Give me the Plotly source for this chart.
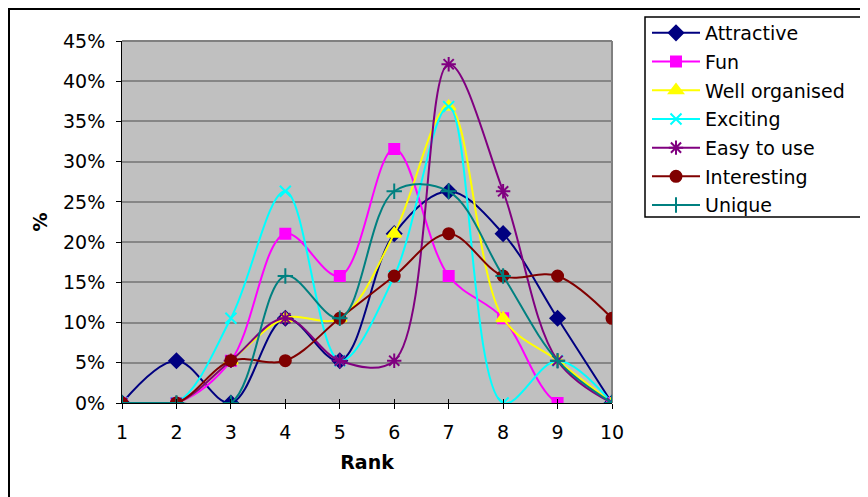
import plotly.graph_objects as go

ranks = [1, 2, 3, 4, 5, 6, 7, 8, 9, 10]
attractive = [0, 5.26, 0, 10.53, 5.26, 21.05, 26.32, 21.05, 10.53, 0]
fun = [0, 0, 5.26, 21.05, 15.79, 31.58, 15.79, 10.53, 0, 0]
well_organised = [0, 0, 5.26, 10.53, 10.53, 21.05, 36.84, 10.53, 5.26, 0]
exciting = [0, 0, 10.53, 26.32, 5.26, 15.79, 36.84, 0, 5.26, 0]
easy_to_use = [0, 0, 5.26, 10.53, 5.26, 5.26, 42.11, 26.32, 5.26, 0]
interesting = [0, 0, 5.26, 5.26, 10.53, 15.79, 21.05, 15.79, 15.79, 10.53]
unique = [0, 0, 0, 15.79, 10.53, 26.32, 26.32, 15.79, 5.26, 0]

y_ticks = [0, 5, 10, 15, 20, 25, 30, 35, 40, 45]
y_tick_labels = [f"{v}%" for v in y_ticks]

series = [
    ("Attractive", attractive, "#000080", "diamond", 11),
    ("Fun", fun, "#FF00FF", "square", 10),
    ("Well organised", well_organised, "#FFFF00", "triangle-up", 12),
    ("Exciting", exciting, "#00FFFF", "x-thin-open", 11),
    ("Easy to use", easy_to_use, "#800080", "asterisk-open", 12),
    ("Interesting", interesting, "#800000", "circle", 11),
    ("Unique", unique, "#008080", "cross-thin-open", 11),
]

FONT = "DejaVu Sans"
FS = 19

fig = go.Figure()
for i, (name, vals, color, sym, size) in enumerate(series):
    fig.add_trace(go.Scatter(
        x=ranks, y=vals, name=name, mode="lines+markers",
        line=dict(color=color, width=2, shape="spline", smoothing=1),
        marker=dict(symbol=sym, color=color, size=size,
                    line=dict(color=color, width=2)),
        legendgroup=f"g{i}",
    ))

# page body offsets the figure by ~8px
OFF = 8
W, H = 868, 497
# desired screen positions of plot area
SL, ST, SR, SB = 122, 41, 612, 403
L, T = SL - OFF, ST - OFF
R, B = W - (SR - OFF), H - (SB - OFF)
pw, ph = W - L - R, H - T - B

def px_x(x):
    return (x - OFF - L) / pw

def px_y(y):
    return (H - B - (y - OFF)) / ph

fig.update_layout(
    width=W, height=H,
    margin=dict(l=L, r=R, t=T, b=B, autoexpand=False),
    paper_bgcolor="white",
    plot_bgcolor="#C0C0C0",
    font=dict(family=FONT, size=FS, color="black"),
    showlegend=True,
    legend=dict(
        x=px_x(647), y=px_y(14), xanchor="left", yanchor="top",
        bgcolor="rgba(0,0,0,0)", borderwidth=0,
        font=dict(family=FONT, size=FS, color="black"),
        tracegroupgap=1, itemwidth=48,
    ),
    xaxis=dict(
        range=[1, 10], tickmode="array", tickvals=ranks,
        ticktext=[str(r) for r in ranks],
        showgrid=False, zeroline=False,
        showline=True, linecolor="black", linewidth=1,
        ticks="outside", ticklen=5, tickcolor="black",
        ticklabelstandoff=7,
        title=dict(text="<b>Rank</b>", font=dict(size=FS), standoff=13),
    ),
    xaxis2=dict(
        range=[1, 10], overlaying="x", matches="x", side="bottom",
        tickmode="array", tickvals=ranks, showticklabels=False,
        showgrid=False, zeroline=False, showline=False,
        ticks="inside", ticklen=4, tickcolor="black",
    ),
    yaxis=dict(
        range=[0, 45], tickmode="array", tickvals=y_ticks,
        ticktext=y_tick_labels,
        showgrid=True, gridcolor="#868686", gridwidth=2,
        zeroline=False,
        showline=True, linecolor="black", linewidth=1,
        ticks="outside", ticklen=5, tickcolor="black",
        ticklabelstandoff=7,
        title=dict(text="<b>%</b>", font=dict(size=FS), standoff=10),
    ),
)

# dummy invisible trace to activate the second x axis (tick crosses)
fig.add_trace(go.Scatter(x=[1, 10], y=[None, None], xaxis="x2", mode="lines",
                         showlegend=False, hoverinfo="skip"))

# plot area top/right border (gray)
fig.add_shape(type="line", xref="paper", yref="paper", x0=0, x1=1, y0=1, y1=1,
              line=dict(color="#808080", width=2), layer="below")
fig.add_shape(type="line", xref="paper", yref="paper", x0=1, x1=1, y0=0, y1=1,
              line=dict(color="#808080", width=2), layer="below")
# outer chart border (extends beyond the visible page)
fig.add_shape(type="rect", xref="paper", yref="paper",
              x0=px_x(OFF + 1), x1=px_x(W + 30), y0=px_y(H + 30), y1=px_y(OFF + 1),
              line=dict(color="black", width=2))
# legend box
fig.add_shape(type="rect", xref="paper", yref="paper",
              x0=px_x(645), x1=px_x(861), y0=px_y(217), y1=px_y(17),
              line=dict(color="black", width=1.5), fillcolor="white")

fig.write_html("out.html")
